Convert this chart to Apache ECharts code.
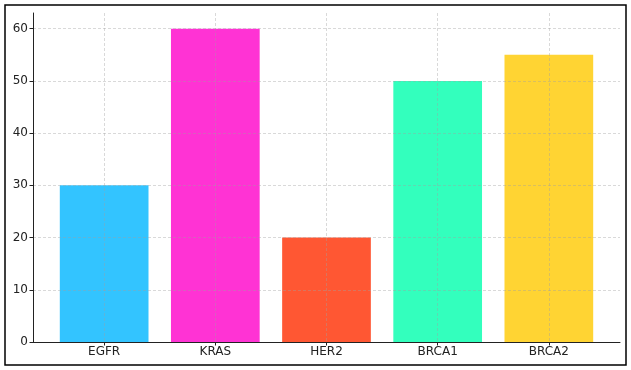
<!DOCTYPE html>
<html><head><meta charset="utf-8">
<script src="https://cdn.jsdelivr.net/npm/echarts@6/dist/echarts.min.js"></script>
<style>html,body{margin:0;padding:0;background:#fff}#c{width:631px;height:370px}</style>
</head><body><div id="c"></div>
<script>
const categories = ['EGFR', 'KRAS', 'HER2', 'BRCA1', 'BRCA2'];
const values = [30, 60, 20, 50, 55];
const colors = ['#33C4FF', '#FF33D4', '#FF5733', '#33FFBD', '#FFD433'];
const yTicks = [0, 10, 20, 30, 40, 50, 60];
const xTicks = [0, 1, 2, 3, 4];

const chart = echarts.init(document.getElementById('c'), null, {renderer: 'canvas'});
const gridLine = {show: true, lineStyle: {color: 'rgba(160,160,160,0.5)', width: 0.8, type: [3, 2]}};
chart.setOption({
  animation: false,
  graphic: [{type: 'rect', shape: {x: 5, y: 5, width: 621, height: 360}, style: {fill: 'none', stroke: '#000', lineWidth: 1.5}, silent: true}],
  grid: {left: 33, right: 11, top: 13, bottom: 28, containLabel: false},
  xAxis: {
    type: 'value', min: -0.64, max: 4.64, z: 5,
    axisLine: {show: true, onZero: false, lineStyle: {color: '#222', width: 1}},
    axisTick: {show: true, customValues: xTicks, length: 3.5, lineStyle: {color: '#222'}},
    axisLabel: {customValues: xTicks, formatter: v => categories[Math.round(v)] || '', color: '#222', fontFamily: 'DejaVu Sans', fontSize: 12, margin: 4},
    splitLine: gridLine
  },
  yAxis: {
    type: 'value', min: 0, max: 63, z: 5,
    axisLine: {show: true, onZero: false, lineStyle: {color: '#222', width: 1}},
    axisTick: {show: true, customValues: yTicks, length: 3.5, lineStyle: {color: '#222'}},
    axisLabel: {customValues: yTicks, color: '#222', fontFamily: 'DejaVu Sans', fontSize: 12, margin: 5},
    splitLine: gridLine
  },
  series: [{
    type: 'bar', barWidth: 88.7,
    data: values.map((v, i) => ({value: [i, v], itemStyle: {color: colors[i]}}))
  }]
});
</script></body></html>
